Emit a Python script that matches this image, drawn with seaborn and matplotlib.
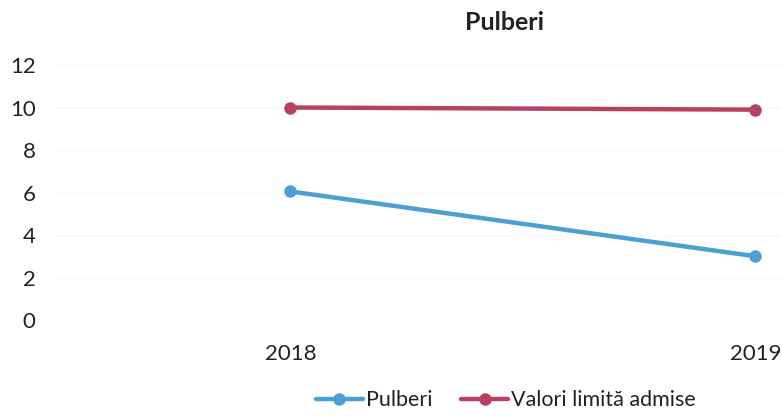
import pandas as pd
import seaborn as sns
import matplotlib.pyplot as plt

# data
years = ['2018', '2019']
pulberi = [6.05, 3.0]
valori_limita = [10.0, 9.9]
series_names = ['Pulberi', 'Valori limită admise']

df = pd.DataFrame({
    'An': years * 2,
    'Valoare': pulberi + valori_limita,
    'Serie': [series_names[0]] * len(years) + [series_names[1]] * len(years),
})

sns.set_style('white')
plt.rcParams['font.family'] = ['Lato', 'DejaVu Sans']

fig = plt.figure(figsize=(7.82, 4.17), dpi=100)
ax = fig.add_axes([0.074, 0.2326, 0.926, 0.6115])

palette = {'Pulberi': '#4a9fd3', 'Valori limită admise': '#b7415f'}
sns.lineplot(data=df, x='An', y='Valoare', hue='Serie', palette=palette,
             marker='o', markersize=9, markeredgewidth=0, linewidth=3.2,
             ax=ax, legend=False)

ax.set_ylim(0, 12)
ax.set_yticks(range(0, 13, 2))
ax.set_xlim(-0.5, 1.057)
ax.set_xlabel('')
ax.set_ylabel('')
ax.grid(axis='y', color='#f7f7f7', linewidth=0.8)
ax.set_axisbelow(True)
for s in ax.spines.values():
    s.set_visible(False)
ax.tick_params(axis='y', labelsize=16, pad=16, length=0, labelcolor='#222222')
ax.tick_params(axis='x', labelsize=16, pad=17, length=0, labelcolor='#222222')

fig.text(0.645, 0.945, 'Pulberi', ha='center', va='center', fontsize=18,
         fontweight='bold', color='#222222')

handles = [plt.Line2D([], [], color=palette[n], marker='o', markersize=9,
                      markeredgewidth=0, linewidth=3.2) for n in series_names]
fig.legend(handles, series_names, loc='center', bbox_to_anchor=(0.647, 0.04),
           ncol=2, frameon=False, fontsize=15.5, handlelength=2.2,
           handletextpad=0.15, columnspacing=1.3, labelcolor='#222222')

plt.savefig('out.png', dpi=100)
